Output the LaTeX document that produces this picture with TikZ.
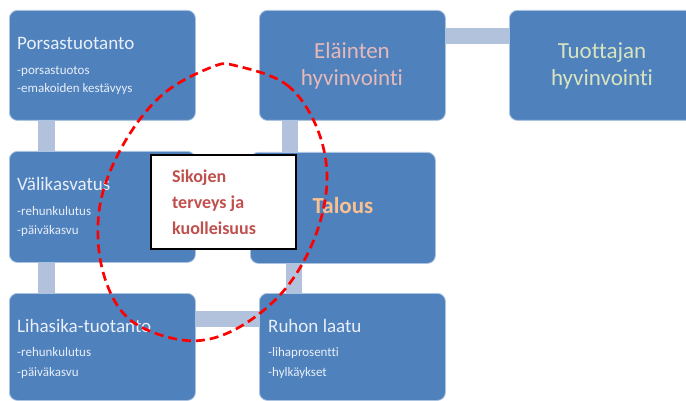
\documentclass[tikz,border=0pt]{standalone}
\usepackage{fontspec}
\setmainfont{Carlito}[Ligatures=NoCommon]
\usetikzlibrary{positioning}

\definecolor{boxblue}{RGB}{79,129,189}
\definecolor{boxedge}{RGB}{170,195,225}
\definecolor{boxtext}{RGB}{232,239,248}
\definecolor{linkblue}{RGB}{179,194,220}
\definecolor{sikred}{RGB}{192,80,77}
\definecolor{elpink}{RGB}{230,185,184}
\definecolor{tuogreen}{RGB}{215,228,189}
\definecolor{talorange}{RGB}{250,192,144}

\tikzset{
  box/.style={rectangle, rounded corners=8pt, fill=boxblue, draw=boxedge, line width=0.8pt,
    anchor=north west, minimum width=186pt, minimum height=110pt, inner sep=0pt},
  link/.style={draw=linkblue, line width=16pt},
  title/.style={anchor=base west, inner sep=0pt, text=boxtext, font=\fontsize{19}{23}\selectfont},
  item/.style={anchor=base west, inner sep=0pt, text=boxtext, font=\fontsize{13}{16}\selectfont},
  bigtitle/.style={anchor=base, inner sep=0pt, font=\fontsize{23}{27}\selectfont},
  sik/.style={anchor=base west, inner sep=0pt, text=sikred, font=\fontsize{18}{22}\selectfont\bfseries},
  ring/.style={draw=red, line width=2.7pt, dash pattern=on 9pt off 5pt},
}

\begin{document}
\begin{tikzpicture}[x=1pt, y=-1pt]
  \useasboundingbox (0,0) rectangle (686,401);

  % Laatikot
  \node[box] (porsas) at (9,10) {};
  \node[box] (elain) at (259,10) {};
  \node[box] (tuott) at (509,10) {};
  \node[box, minimum height=111pt] (vali) at (9,151) {};
  \node[box, minimum width=185pt, minimum height=111pt] (talous) at (250,152) {};
  \node[box, minimum height=107pt] (lihas) at (9,293) {};
  \node[box, minimum height=107pt] (ruhon) at (259,293) {};

  % Yhteydet
  \draw[link, line width=17pt] ([xshift=37pt]porsas.south west) -- ([xshift=37pt]vali.north west);
  \draw[link, line width=17pt] ([xshift=37pt]vali.south west) -- ([xshift=37pt]lihas.north west);
  \draw[link] ([yshift=-26pt]lihas.north east) -- ([yshift=-26pt]ruhon.north west);
  \draw[link] ([yshift=-26pt]elain.north east) -- ([yshift=-26pt]tuott.north west);
  \draw[link] ([xshift=31pt]elain.south west) -- ([xshift=40pt]talous.north west);
  \draw[link] ([xshift=44pt]talous.south west) -- ([xshift=35pt]ruhon.north west);

  % Tekstit
  \node[title] (porsasT) at ([shift={(8,40)}]porsas.north west) {Porsastuotanto};
  \node[item] (porsasA) at ([shift={(8,65)}]porsas.north west) {-porsastuotos};
  \node[item] (porsasB) at ([shift={(8,83)}]porsas.north west) {-emakoiden kestävyys};

  \node[title] (valiT) at ([shift={(8,40)}]vali.north west) {Välikasvatus};
  \node[item] (valiA) at ([shift={(8,64)}]vali.north west) {-rehunkulutus};
  \node[item] (valiB) at ([shift={(8,83)}]vali.north west) {-päiväkasvu};

  \node[title] (lihasT) at ([shift={(8,39)}]lihas.north west) {Lihasika-tuotanto};
  \node[item] (lihasA) at ([shift={(8,63)}]lihas.north west) {-rehunkulutus};
  \node[item] (lihasB) at ([shift={(8,83)}]lihas.north west) {-päiväkasvu};

  \node[title] (ruhonT) at ([shift={(9,39)}]ruhon.north west) {Ruhon laatu};
  \node[item] (ruhonA) at ([shift={(9,63)}]ruhon.north west) {-lihaprosentti};
  \node[item] (ruhonB) at ([shift={(9,83)}]ruhon.north west) {-hylkäykset};

  \node[bigtitle, text=elpink] (elainA) at ([shift={(93,49)}]elain.north west) {Eläinten};
  \node[bigtitle, text=elpink] (elainB) at ([shift={(93,76)}]elain.north west) {hyvinvointi};
  \node[bigtitle, text=tuogreen] (tuottA) at ([shift={(93,49)}]tuott.north west) {Tuottajan};
  \node[bigtitle, text=tuogreen] (tuottB) at ([shift={(93,76)}]tuott.north west) {hyvinvointi};
  \node[bigtitle, text=talorange, font=\fontsize{23}{27}\selectfont\bfseries] (talousT)
    at ([shift={(93,62)}]talous.north west) {Talous};

  % Sikojen terveys
  \node[draw=black, line width=2pt, fill=white, anchor=north west,
    minimum width=145pt, minimum height=94pt, inner sep=0pt] (sikbox) at (150,154) {};
  \node[sik] (sikA) at ([shift={(22,29)}]sikbox.north west) {Sikojen};
  \node[sik] (sikB) at ([shift={(22,55)}]sikbox.north west) {terveys ja};
  \node[sik] (sikC) at ([shift={(22,81)}]sikbox.north west) {kuolleisuus};

  % Katkoviiva
  \draw[ring] plot[smooth cycle, tension=0.6] coordinates {
    (237,66) (287,85) (317,128) (327,182) (313,242) (280,295) (230,332)
    (182,340) (128,318) (102,268) (100,205) (123,145) (162,95) (212,67)};
\end{tikzpicture}
\end{document}
